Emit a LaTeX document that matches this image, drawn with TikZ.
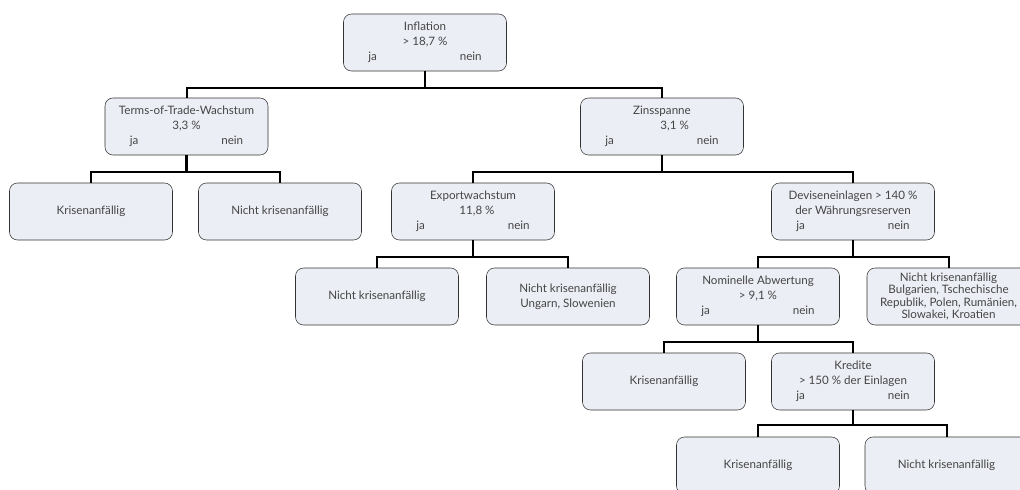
\documentclass[tikz,border=0pt]{standalone}
\usepackage{fontspec}
\setmainfont{Lato}
\definecolor{boxfill}{HTML}{ECEEF5}
\definecolor{boxtext}{HTML}{454545}
\newcommand\janein{\makebox[85pt]{ja\hfill nein}}

\begin{document}
\begin{tikzpicture}[x=0.75pt,y=-0.75pt,
  box/.style={draw=black!80,fill=boxfill,rounded corners=6pt,
    minimum width=122.25pt,minimum height=42.75pt,inner sep=0pt,
    align=center,text=boxtext,font=\fontsize{8.7}{11.25}\selectfont},
  stem/.style={line width=2.2pt},
  link/.style={line width=1.5pt}]
\useasboundingbox (0,0) rectangle (1020,489);
\clip (0,0) rectangle (1020,489);

\node[box] (root) at (425,42.5) {Inflation\\> 18,7 \%\\\janein};

\node[box] (ttw) at (186.5,126.5) {Terms-of-Trade-Wachstum\\3,3 \%\\\janein};
\node[box] (zins) at (662,126.5) {Zinsspanne\\\hspace*{19pt}3,1 \%\\\janein};

\node[box] (kris1) at (91,211.5) {Krisenanf\"allig};
\node[box] (nicht1) at (280,211.5) {Nicht krisenanf\"allig};
\node[box] (export) at (473,211.5) {Exportwachstum\\\hspace*{6pt}11,8 \%\\\janein};
\node[box] (devisen) at (853,211.5) {Deviseneinlagen > 140 \%\\der W\"ahrungsreserven\\\janein};

\node[box] (nicht2) at (377,296.5) {Nicht krisenanf\"allig};
\node[box] (ungarn) at (568,296.5) {Nicht krisenanf\"allig\\Ungarn, Slowenien};
\node[box] (abwertung) at (758,296.5) {Nominelle Abwertung\\> 9,1 \%\\\janein};
\node[box,font=\fontsize{8.7}{9.3}\selectfont] (bulg) at (948.5,296.5)
  {Nicht krisenanf\"allig\\Bulgarien, Tschechische\\Republik, Polen, Rum\"anien,\\Slowakei, Kroatien};

\node[box] (kris3) at (664,381.5) {Krisenanf\"allig};
\node[box] (kredite) at (853,381.5) {Kredite\\> 150 \% der Einlagen\\\janein};

\node[box] (kris4) at (758,465.5) {Krisenanf\"allig};
\node[box] (nicht4) at (946.5,465.5) {Nicht krisenanf\"allig};

% stems and branches
\draw[stem] (root.south) -- ++(0,17);
\draw[link] (ttw.north) -- ++(0,-10) -| (zins.north);
\draw[stem] (ttw.south) -- ++(0,17);
\draw[link] (kris1.north) -- ++(0,-11) -| (nicht1.north);
\draw[stem] (zins.south) -- ++(0,17);
\draw[link] (export.north) -- ++(0,-11) -| (devisen.north);
\draw[stem] (export.south) -- ++(0,17);
\draw[link] (nicht2.north) -- ++(0,-11) -| (ungarn.north);
\draw[stem] (devisen.south) -- ++(0,17);
\draw[link] (abwertung.north) -- ++(0,-11) -| (bulg.north);
\draw[stem] (abwertung.south) -- ++(0,17);
\draw[link] (kris3.north) -- ++(0,-11) -| (kredite.north);
\draw[stem] (kredite.south) -- ++(0,15);
\draw[link] (kris4.north) -- ++(0,-12) -| (nicht4.north);
\end{tikzpicture}
\end{document}
